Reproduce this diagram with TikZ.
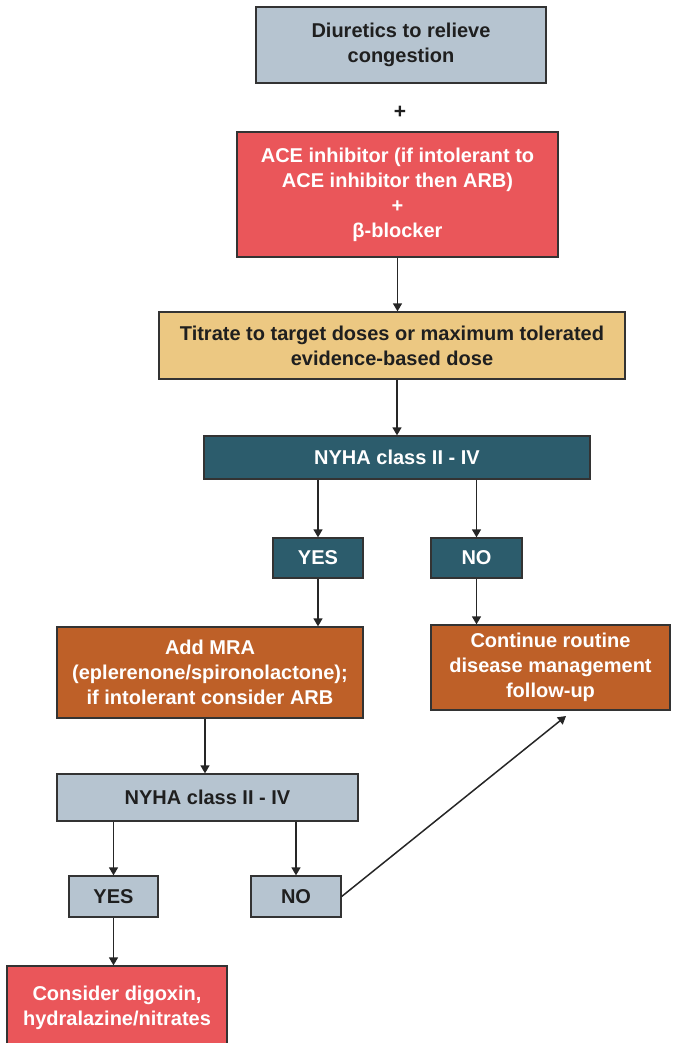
\documentclass[tikz,border=0pt]{standalone}
\usepackage{fontspec}
\setmainfont{Liberation Sans}
\definecolor{hfPale}{RGB}{182,196,208}
\definecolor{hfRed}{RGB}{234,86,90}
\definecolor{hfTan}{RGB}{236,200,130}
\definecolor{hfTeal}{RGB}{44,92,108}
\definecolor{hfRust}{RGB}{190,96,40}
\usepackage{tikz}
\usetikzlibrary{arrows.meta,positioning}

\begin{document}
\begin{tikzpicture}[x=1pt,y=-1pt,
    box/.style={draw=black!80,line width=1.3pt,align=center,inner sep=0pt,
      font=\bfseries\fontsize{20}{25}\selectfont},
    palebox/.style={box,fill=hfPale,text=black!88},
    redbox/.style={box,fill=hfRed,text=white},
    tanbox/.style={box,fill=hfTan,text=black!88},
    tealbox/.style={box,fill=hfTeal,text=white},
    rustbox/.style={box,fill=hfRust,text=white},
    arr/.style={-{Triangle[width=9pt,length=8pt]},line width=1.5pt,black!85}]
  \clip (0,0) rectangle (673,1043);
  % first line treatment
  \node[palebox,minimum width=290pt,minimum height=76pt] (diur) at (401,45) {Diuretics to relieve\\congestion};
  \node[font=\bfseries\fontsize{21}{25}\selectfont,text=black!88] (plus) at (400,112) {+};
  \node[redbox,minimum width=321pt,minimum height=125pt] (ace) at (397.5,194.5)
    {ACE inhibitor (if intolerant to\\ACE inhibitor then ARB)\\+\\β-blocker};
  \node[tanbox,minimum width=466pt,minimum height=67pt] (titr) at (392,345.5)
    {Titrate to target doses or maximum tolerated\\evidence-based dose};
  % first NYHA check
  \node[tealbox,minimum width=386pt,minimum height=43pt] (nyha) at (397,457.5) {NYHA class II - IV};
  \node[tealbox,minimum width=90pt,minimum height=40pt] (yes) at (318,558) {YES};
  \node[tealbox,minimum width=91pt,minimum height=40pt] (no) at (476.5,558) {NO};
  \node[rustbox,minimum width=306pt,minimum height=91pt] (mra) at (210,672.5)
    {Add MRA\\(eplerenone/spironolactone);\\if intolerant consider ARB};
  \node[rustbox,minimum width=239pt,minimum height=85pt] (cont) at (550.5,667.5)
    {Continue routine\\disease management\\follow-up};
  % second NYHA check
  \node[palebox,minimum width=301pt,minimum height=47pt] (nyhb) at (207.5,797.5) {NYHA class II - IV};
  \node[palebox,minimum width=89pt,minimum height=41pt] (yesb) at (113.5,896.5) {YES};
  \node[palebox,minimum width=90pt,minimum height=41pt] (nob) at (296,896.5) {NO};
  \node[redbox,minimum width=220pt,minimum height=84pt] (dig) at (117,1008)
    {Consider digoxin,\\hydralazine/nitrates};
  \coordinate (back) at (566,716);
  % connectors
  \draw[arr] (ace.south) -- (ace.south |- titr.north);
  \draw[arr] (nyha.north |- titr.south) -- (nyha.north);
  \draw[arr] (yes.north |- nyha.south) -- (yes.north);
  \draw[arr] (no.north |- nyha.south) -- (no.north);
  \draw[arr] (yes.south) -- (yes.south |- mra.north);
  \draw[arr] (no.south) -- (no.south |- cont.north);
  \draw[arr] ([xshift=-2.5pt]nyhb.north |- mra.south) -- ([xshift=-2.5pt]nyhb.north);
  \draw[arr] (yesb.north |- nyhb.south) -- (yesb.north);
  \draw[arr] (nob.north |- nyhb.south) -- (nob.north);
  \draw[arr] (yesb.south) -- (yesb.south |- dig.north);
  \draw[arr] (nob.east) -- (back);
\end{tikzpicture}
\end{document}
